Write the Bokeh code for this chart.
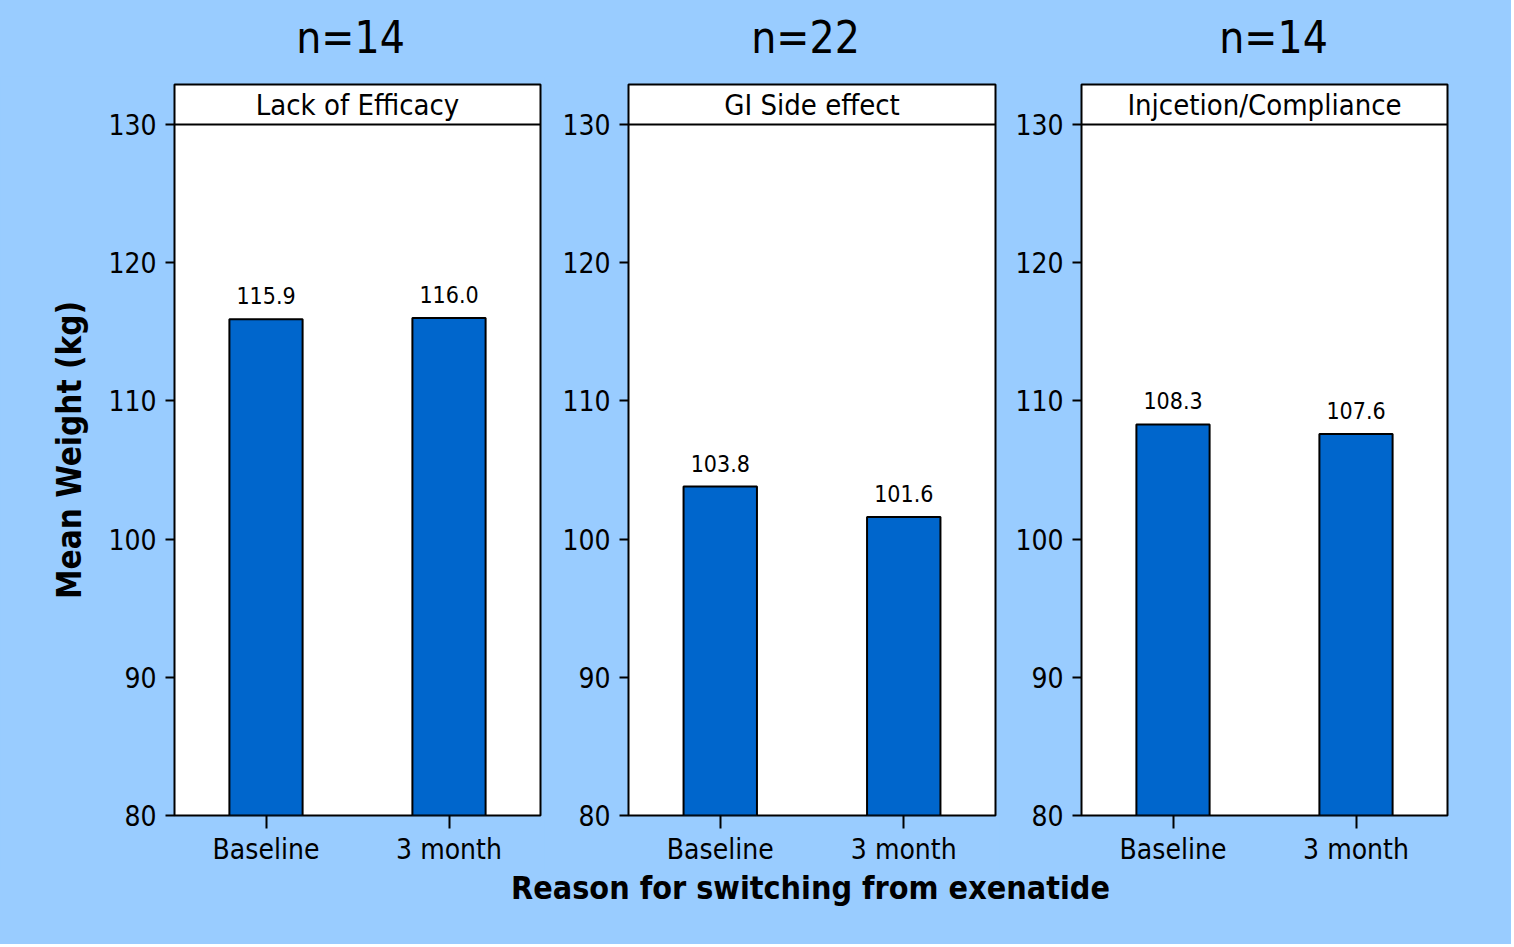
from bokeh.plotting import figure
from bokeh.models import Range1d, FixedTicker, Span, ColumnDataSource, LabelSet, Label
from bokeh.layouts import row, column
from bokeh.embed import file_html
from bokeh.resources import INLINE
from bokeh.core.properties import value

categories = ["Baseline", "3 month"]
panels = ["Lack of Efficacy", "GI Side effect", "Injcetion/Compliance"]
n_labels = ["n=14", "n=22", "n=14"]
baseline = [115.9, 103.8, 108.3]
month3 = [116.0, 101.6, 107.6]
y_ticks = [80, 90, 100, 110, 120, 130]
x_title = "Reason for switching from exenatide"
y_title = "Mean Weight (kg)"

BG = "#99CCFF"
BAR = "#0066CC"
FONT = "DejaVu Sans Condensed"

TOTAL_W = 1511
TOP_H = 76
ROW_H = 794
STRIP_H = 74
widths = [544, 455, 512]
borders = [(174, 4), (84, 4), (82, 64)]
n_label_x = [350, 805, 1273]
Y0, Y1 = 80, 130
HEADER_TOP = 130 + 40 / 691 * 50


def strip_figure(h):
    s = figure(width=TOTAL_W, height=h, x_range=Range1d(0, TOTAL_W),
               y_range=Range1d(0, h), output_backend="svg",
               toolbar_location=None, tools="", min_border=0)
    s.axis.visible = False
    s.grid.visible = False
    s.outline_line_color = None
    s.background_fill_color = BG
    s.border_fill_color = BG
    return s


# top strip with the group sizes
top = strip_figure(TOP_H)
for i in range(3):
    top.add_layout(Label(x=n_label_x[i], y=TOP_H - 37, text=n_labels[i],
                         text_align="center", text_baseline="middle",
                         text_font=FONT, text_font_size="44px", text_color="black"))

figs = []
for i in range(3):
    lb, rb = borders[i]
    p = figure(x_range=categories, y_range=Range1d(Y0, HEADER_TOP),
               width=widths[i], height=ROW_H, output_backend="svg",
               toolbar_location=None, tools="",
               min_border_left=lb, min_border_right=rb,
               min_border_top=84 - TOP_H, min_border_bottom=ROW_H - (84 - TOP_H) - 731)
    p.border_fill_color = BG
    p.background_fill_color = "white"
    p.outline_line_color = "black"
    p.outline_line_width = 2
    p.grid.visible = False

    src = ColumnDataSource(dict(x=categories, top=[baseline[i], month3[i]],
                                label=[f"{baseline[i]:.1f}", f"{month3[i]:.1f}"]))
    p.vbar(x="x", top="top", bottom=Y0, width=0.4, source=src,
           fill_color=BAR, line_color="black", line_width=2)
    p.add_layout(LabelSet(x="x", y="top", text="label", source=src,
                          y_offset=15, text_align="center", text_baseline="alphabetic",
                          text_font=value(FONT), text_font_size="23px",
                          text_color="black"))

    p.add_layout(Span(location=Y1, dimension="width", line_color="black", line_width=2))
    p.add_layout(Label(x=1.0, y=(Y1 + HEADER_TOP) / 2, text=panels[i],
                       text_align="center", text_baseline="middle",
                       text_font=FONT, text_font_size="29px", text_color="black"))

    ya = p.yaxis[0]
    ya.ticker = FixedTicker(ticks=y_ticks)
    ya.axis_line_color = None
    ya.major_tick_out = 9
    ya.major_tick_in = 0
    ya.minor_tick_line_color = None
    ya.major_tick_line_width = 2
    ya.major_label_standoff = 9
    ya.major_label_text_font = FONT
    ya.major_label_text_font_size = "28px"
    ya.major_label_text_color = "black"

    xa = p.xaxis[0]
    xa.axis_line_color = None
    xa.major_tick_out = 13
    xa.major_tick_in = 0
    xa.major_tick_line_width = 2
    xa.minor_tick_line_color = None
    xa.major_label_standoff = 4
    xa.major_label_text_font = FONT
    xa.major_label_text_font_size = "28px"
    xa.major_label_text_color = "black"

    if i == 0:
        ya.axis_label = y_title
        ya.axis_label_text_font = FONT
        ya.axis_label_text_font_size = "33px"
        ya.axis_label_text_font_style = "bold"
        ya.axis_label_text_color = "black"
        ya.axis_label_standoff = 16
    figs.append(p)

# strip below the panels holding the shared x-axis title
bottom = strip_figure(STRIP_H)
bottom.add_layout(Label(x=810, y=STRIP_H - 17, text=x_title,
                        text_align="center", text_baseline="middle",
                        text_font=FONT, text_font_size="32px",
                        text_font_style="bold", text_color="black"))

mid_row = row(*figs, spacing=0, styles={"background-color": BG})
layout = column(top, mid_row, bottom, spacing=0, styles={"background-color": BG})
open("out.html", "w").write(file_html(layout, INLINE))
